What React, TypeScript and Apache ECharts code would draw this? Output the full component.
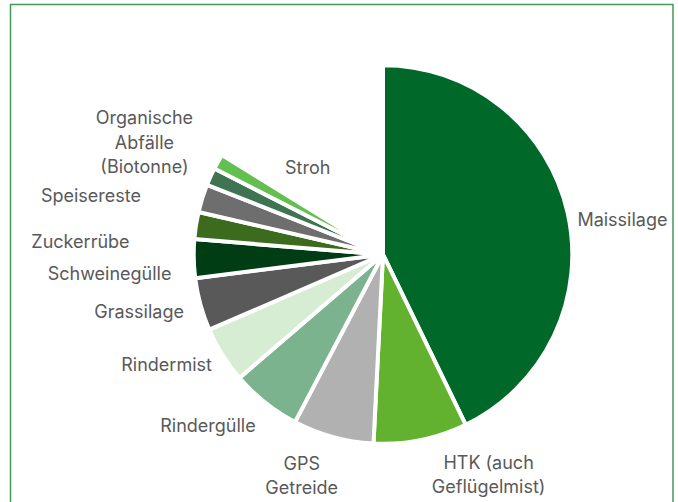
import React, { useEffect, useRef } from "react";
import * as echarts from "echarts";

// Shares (% of total); the remaining share is not drawn.
const categories = [
  "Maissilage",
  "HTK (auch\nGeflügelmist)",
  "GPS\nGetreide",
  "Rindergülle",
  "Rindermist",
  "Grassilage",
  "Schweinegülle",
  "Zuckerrübe",
  "Speisereste",
  "Organische\nAbfälle\n(Biotonne)",
  "Stroh",
];
const shares = [42.8, 8.0, 6.9, 6.0, 4.8, 4.5, 3.3, 2.3, 2.4, 1.5, 1.3];

const colors = [
  "#00692A",
  "#62B22F",
  "#B1B1B1",
  "#7CB38F",
  "#D7EDD3",
  "#595959",
  "#003D15",
  "#3C6B1E",
  "#6E6E6E",
  "#3E7452",
  "#62BF50",
];

// label nudges relative to ECharts' outside label anchor: [dx, dy, align]
const labelNudges: [number, number, string][] = [
  [1, 8.5, "left"],
  [62, 30.6, "center"],
  [-25.3, 34.6, "center"],
  [-1.9, 20.1, "right"],
  [-2.2, 7.9, "right"],
  [-7.6, 6.2, "right"],
  [-13.3, 14.8, "right"],
  [-57.4, 16.7, "right"],
  [-52.4, -2, "right"],
  [-57.4, -32.7, "center"],
  [98.2, 7.6, "center"],
];

export default function App() {
  const ref = useRef<HTMLDivElement>(null);
  useEffect(() => {
    if (!ref.current) return;
    const chart = echarts.init(ref.current, null, { renderer: "svg" });
    const total = shares.reduce((a, b) => a + b, 0);
    const startAngle = 90;
    const endAngle = startAngle - (360 * total) / 100;
    chart.setOption({
      animation: false,
      backgroundColor: "#ffffff",
      graphic: [
        {
          type: "rect",
          shape: { x: 10.5, y: 4.5, width: 662.5, height: 600 },
          style: { fill: "none", stroke: "#3F9B57", lineWidth: 1.5 },
          silent: true,
        },
      ],
      series: [
        {
          type: "pie",
          center: [383, 254.5],
          radius: 189.3,
          startAngle,
          endAngle,
          clockwise: true,
          avoidLabelOverlap: false,
          itemStyle: { borderColor: "#ffffff", borderWidth: 4 },
          label: {
            show: true,
            position: "outside",
            alignTo: "none",
            distanceToLabelLine: 5,
            color: "#595959",
            fontFamily: "Inter",
            fontSize: 18,
            lineHeight: 24.5,
          },
          labelLine: { show: false, length: 4, length2: 0 },
          labelLayout: (params: any) => {
            const n = labelNudges[params.dataIndex];
            return { dx: n[0], dy: n[1], align: n[2] };
          },
          emphasis: { disabled: true },
          data: categories.map((name, i) => ({
            name,
            value: shares[i],
            itemStyle: { color: colors[i] },
          })),
        },
      ],
    });
    return () => chart.dispose();
  }, []);
  return (
    <div
      ref={ref}
      style={{ position: "fixed", left: 0, top: 0, width: 678, height: 502 }}
    />
  );
}
